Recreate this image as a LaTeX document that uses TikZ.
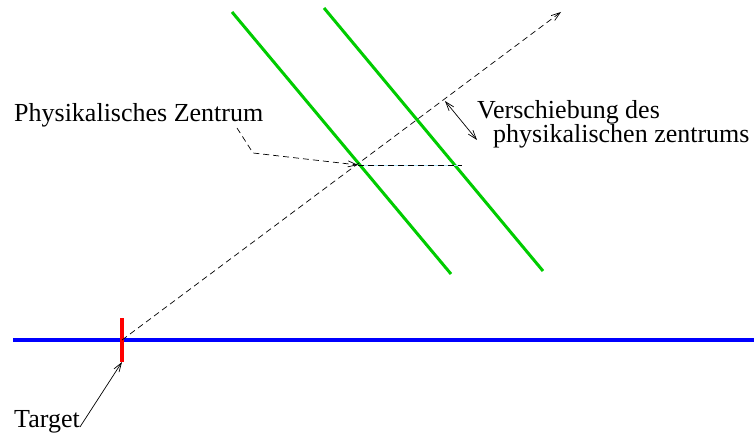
\documentclass[tikz,border=0pt]{standalone}
\usepackage{fontspec}
\setmainfont{Liberation Serif}
\usetikzlibrary{arrows.meta}

\begin{document}
\begin{tikzpicture}[
    x=1pt, y=-1pt,
    font=\fontsize{26}{19}\selectfont,
    label/.style={inner sep=0pt, anchor=base west, align=left},
    beam/.style={dash pattern=on 6pt off 4pt, line width=0.7pt},
    ptr/.style={-{Straight Barb[length=9pt, width=6pt]}, line width=0.7pt},
    foil/.style={draw=green!80!black, line width=3pt}
]
\useasboundingbox (0,0) rectangle (754,435);

% beam line and target
\draw[blue, line width=4.5pt] (13,340) -- (754,340);
\coordinate (ttop) at (122,318);
\coordinate (tbot) at (122,362);
\coordinate (tgt) at (122,340);
\draw[red, line width=4pt] (ttop) -- (tbot);

% detector planes
\draw[foil] (232,12) -- (451,274);
\draw[foil] (324,8) -- (543,271);

% track
\coordinate (trk) at (561,12);
\draw[beam, ptr] (tgt) -- (trk);

% centre and its shift
\coordinate (zc) at (358,165);
\coordinate (zs) at (462,165);
\draw[cyan!35, line width=0.8pt] (zc) -- (zs);
\draw[beam] (zc) -- (zs);
\coordinate (sa) at (445,101);
\coordinate (sb) at (477,140);
\draw[{Straight Barb[length=9pt, width=6pt]}-{Straight Barb[length=9pt, width=6pt]}, line width=0.7pt] (sa) -- (sb);

% labels
\node[label] (pz) at (14,122) {Physikalisches Zentrum};
\node[label] (vs) at (477,143) {Verschiebung des\\\hspace*{16pt}physikalischen zentrums};
\node[label] (target) at (14,427) {Target};

\coordinate (pzfoot) at (237,128);
\coordinate (pzknee) at (253,153);
\draw[beam, ptr] (pzfoot) -- (pzknee) -- (zc);
\draw[ptr] (target.base east) -- (tbot);
\end{tikzpicture}
\end{document}
